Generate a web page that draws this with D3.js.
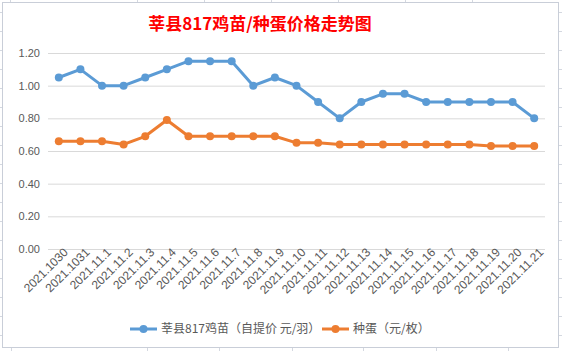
<!DOCTYPE html>
<html>
<head>
<meta charset="utf-8">
<script src="https://cdn.jsdelivr.net/npm/d3@7"></script>
<style>
  body { margin: 0; background: #fff; }
  svg { display: block; }
  .tick text { font-family: "Liberation Sans", Arial, sans-serif; font-size: 11px; fill: #595959; }
  .x-axis .tick text { font-size: 12px; }
</style>
</head>
<body>
<div id="chart"></div>
<script>
/* 莘县817 line chart */

const categories = ["2021.1030", "2021.1031", "2021.11.1", "2021.11.2", "2021.11.3", "2021.11.4",
  "2021.11.5", "2021.11.6", "2021.11.7", "2021.11.8", "2021.11.9", "2021.11.10",
  "2021.11.11", "2021.11.12", "2021.11.13", "2021.11.14", "2021.11.15", "2021.11.16",
  "2021.11.17", "2021.11.18", "2021.11.19", "2021.11.20", "2021.11.21"];

const chickValues = [1.05, 1.10, 1.00, 1.00, 1.05, 1.10, 1.15, 1.15, 1.15, 1.00, 1.05, 1.00,
  0.90, 0.80, 0.90, 0.95, 0.95, 0.90, 0.90, 0.90, 0.90, 0.90, 0.80];
const eggValues = [0.66, 0.66, 0.66, 0.64, 0.69, 0.79, 0.69, 0.69, 0.69, 0.69, 0.69, 0.65,
  0.65, 0.64, 0.64, 0.64, 0.64, 0.64, 0.64, 0.64, 0.63, 0.63, 0.63];
const yTicks = [0, 0.2, 0.4, 0.6, 0.8, 1.0, 1.2];
const seriesNames = ["莘县817鸡苗（自提价 元/羽）", "种蛋（元/枚）"];
const title = "莘县817鸡苗/种蛋价格走势图";

const width = 562, height = 351,
  margin = ({ top: 53, right: 17, bottom: 102, left: 48 });

const svg = d3.select("#chart")
  .append("svg")
  .attr("width", width)
  .attr("height", height);

// spreadsheet grid peeking out around the chart box
const gridColor = "#d4d8e0";
[10, 137, 204, 271, 338, 405, 472].forEach(gx => {
  svg.append("line").attr("x1", gx + 0.5).attr("x2", gx + 0.5).attr("y1", 0).attr("y2", 3)
    .attr("stroke", gridColor);
});
[11, 147, 219, 292, 363, 436, 508].forEach(gx => {
  svg.append("line").attr("x1", gx + 0.5).attr("x2", gx + 0.5).attr("y1", 348).attr("y2", height)
    .attr("stroke", gridColor);
});
d3.range(12, 348, 19).forEach(gy => {
  svg.append("line").attr("x1", 0).attr("x2", 3).attr("y1", gy + 0.5).attr("y2", gy + 0.5)
    .attr("stroke", gridColor);
  svg.append("line").attr("x1", 559).attr("x2", width).attr("y1", gy + 0.5).attr("y2", gy + 0.5)
    .attr("stroke", gridColor);
});

// chart box
svg.append("rect")
  .attr("x", 2.5).attr("y", 2.5)
  .attr("width", 556).attr("height", 345)
  .attr("fill", "#fff")
  .attr("stroke", "#c9ced8");

svg.append("text")
  .attr("x", 260)
  .attr("y", 30)
  .attr("text-anchor", "middle")
  .attr("font-family", "'Noto Sans CJK SC', sans-serif")
  .attr("font-size", 17)
  .attr("font-weight", "bold")
  .attr("fill", "#ff0000")
  .text(title);

let x = d3.scaleBand()
  .domain(categories)
  .range([margin.left, width - margin.right]);

let y = d3.scaleLinear()
  .domain([0, 1.2])
  .range([height - margin.bottom, margin.top]);

// horizontal gridlines + y labels
svg.append("g")
  .attr("transform", `translate(${margin.left},0)`)
  .call(d3.axisLeft(y)
    .tickValues(yTicks)
    .tickFormat(d3.format(".2f"))
    .tickSize(-(width - margin.left - margin.right))
    .tickPadding(8))
  .call(g => g.select(".domain").remove())
  .call(g => g.selectAll(".tick line").attr("stroke", "#d9d9d9"));

// x labels, rotated
svg.append("g")
  .attr("class", "x-axis")
  .attr("transform", `translate(0,${height - margin.bottom})`)
  .call(d3.axisBottom(x).tickSize(0))
  .call(g => g.select(".domain").remove())
  .call(g => g.selectAll(".tick text")
    .attr("text-anchor", "end")
    .attr("transform", "translate(7,1) rotate(-45)")
    .attr("dy", "0.35em")
    .attr("y", 0)
    .attr("x", 0));

const cx = d => x(d) + x.bandwidth() / 2;
const colors = ["#5b9bd5", "#ed7d31"];

[chickValues, eggValues].forEach((vals, i) => {
  let line = d3.line()
    .x((d, j) => cx(categories[j]))
    .y(d => y(d));

  svg.append("path")
    .datum(vals)
    .attr("d", line)
    .attr("fill", "none")
    .attr("stroke", colors[i])
    .attr("stroke-width", 3)
    .attr("stroke-linejoin", "round");

  svg.append("g")
    .selectAll("circle")
    .data(vals)
    .join("circle")
    .attr("cx", (d, j) => cx(categories[j]))
    .attr("cy", d => y(d))
    .attr("r", 4)
    .attr("fill", colors[i]);
});

// legend
const legendX = [130, 322];
seriesNames.forEach((name, i) => {
  const lg = svg.append("g").attr("transform", `translate(${legendX[i]},329)`);
  lg.append("line")
    .attr("x1", 0).attr("x2", 27)
    .attr("stroke", colors[i]).attr("stroke-width", 3);
  lg.append("circle")
    .attr("cx", 13.5).attr("r", 4)
    .attr("fill", colors[i]);
  lg.append("text")
    .attr("x", 31)
    .attr("dy", "0.35em")
    .attr("font-family", "'Noto Sans CJK SC', sans-serif")
    .attr("font-size", 12)
    .attr("fill", "#595959")
    .text(name);
});
</script>
</body>
</html>
